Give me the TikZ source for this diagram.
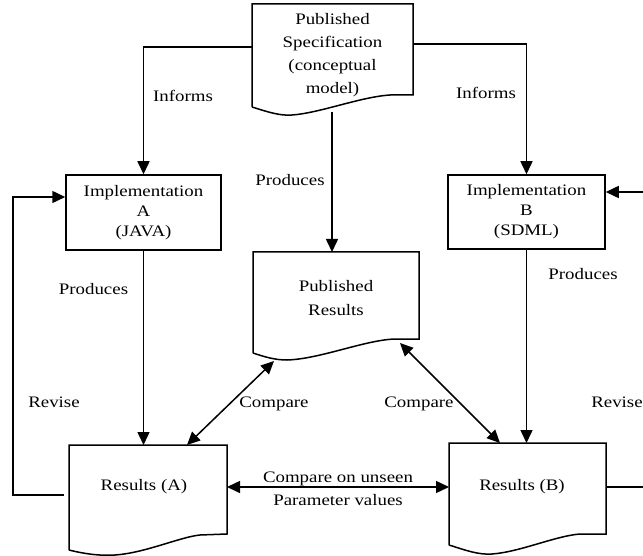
\documentclass[tikz,border=0pt]{standalone}
\usepackage{fontspec}
\setmainfont{Liberation Serif}[FakeStretch=1.18]
\usetikzlibrary{arrows.meta}
\begin{document}
\begin{tikzpicture}[x=1pt,y=-1pt,
  line/.style={line width=1.5pt},
  arr/.style={line, -{Triangle[length=13pt,width=12pt]}},
  darr/.style={line, {Triangle[length=13pt,width=12pt]}-{Triangle[length=13pt,width=12pt]}},
  txt/.style={inner sep=0pt, align=center, font=\fontsize{16pt}{22pt}\selectfont},
  box/.style={txt, draw, line width=1.5pt},
  area/.style={inner sep=0pt, outer sep=0pt}]
\useasboundingbox (0,0) rectangle (643,556);

% Published specification (document shape)
\node[area, txt, font=\fontsize{16pt}{23pt}\selectfont, minimum width=161pt, minimum height=103pt] (spec) at (332.5,55.5)
  {Published\\Specification\\(conceptual\\model)};
\draw[line] (spec.south west) -- (spec.north west) -- (spec.north east) -- (413,95) -- (390,95)
  .. controls (360,97) and (320,113) .. (292,115)
  .. controls (280,116) and (268,112) .. (spec.south west);

% Implementation boxes
\node[box, font=\fontsize{16pt}{20pt}\selectfont, minimum width=155pt, minimum height=75pt] (implA) at (143.5,212.5)
  {Implementation\\A\\(JAVA)};
\node[box, font=\fontsize{16pt}{20pt}\selectfont, minimum width=157pt, minimum height=74pt] (implB) at (526.5,212)
  {Implementation\\B\\(SDML)};

% Published results
\node[area, minimum width=166pt, minimum height=101pt] (pubres) at (336,302.5) {};
\node[txt, font=\fontsize{16pt}{24pt}\selectfont] (pubrestxt) at ([yshift=4pt]pubres.center) {Published\\Results};
\draw[line] (pubres.south west) -- (pubres.north west) -- (pubres.north east) -- (419,339) -- (395,339)
  .. controls (365,340) and (320,359) .. (287,360)
  .. controls (275,360) and (265,357) .. (pubres.south west);

% Results (A)
\node[area, minimum width=158pt, minimum height=105pt] (resA) at (148,497.5) {};
\node[txt] (resAtxt) at (144,487) {Results (A)};
\draw[line] (resA.south west) -- (resA.north west) -- (resA.north east) -- (227,534) -- (200,535)
  .. controls (180,537) and (145,553) .. (115,555)
  .. controls (100,556) and (85,554) .. (resA.south west);

% Results (B)
\node[area, minimum width=157pt, minimum height=102pt] (resB) at (527.5,494) {};
\node[txt] (resBtxt) at (522,487) {Results (B)};
\draw[line] (resB.south west) -- (resB.north west) -- (resB.north east) -- (606,534) -- (580,534)
  .. controls (555,536) and (520,552) .. (492,554)
  .. controls (478,555) and (465,550) .. (resB.south west);

% Connectors
\draw[arr] ([yshift=8.5pt]spec.west) -| (implA.north);
\draw[arr] ([yshift=11.5pt]spec.east) -| (implB.north);
\coordinate (specbot) at (332,112);
\draw[arr] (specbot) -- (specbot |- pubres.north);
\draw[arr] (implA.south) -- (implA.south |- resA.north);
\draw[arr] (implB.south) -- (implB.south |- resB.north);

\coordinate (revA1) at (13,495);
\coordinate (revA2) at (13,197);
\draw[arr] ([xshift=-5pt,yshift=2.5pt]resA.west) -- (revA1) -- (revA2) -- (revA2 -| implA.west);

\coordinate (rin) at (643,192);
\draw[arr] (rin) -- (rin -| implB.east);
\coordinate (rout) at (643,487);
\draw[line] (rout -| resB.east) -- (rout);

\coordinate (cA) at (187,445);
\coordinate (cP1) at (274,361);
\coordinate (cP2) at (400,343);
\coordinate (cB) at (500,443);
\draw[darr] (cA) -- (cP1);
\draw[darr] (cP2) -- (cB);
\coordinate (hl) at (0,487);
\draw[darr] (resA.east |- hl) -- (resB.west |- hl);

% Labels
\node[txt] (l1) at (183,96) {Informs};
\node[txt] (l2) at (486,93) {Informs};
\node[txt] (l3) at (290,180) {Produces};
\node[txt] (l4) at (93.5,289) {Produces};
\node[txt] (l5) at (583,274) {Produces};
\node[txt] (l6) at (54,402) {Revise};
\node[txt] (l7) at (617,402) {Revise};
\node[txt] (l8) at (274,404) {Compare};
\node[txt] (l9) at (419,404) {Compare};
\node[txt] (l10) at (338,479) {Compare on unseen};
\node[txt] (l11) at (338,500) {Parameter values};
\end{tikzpicture}
\end{document}
